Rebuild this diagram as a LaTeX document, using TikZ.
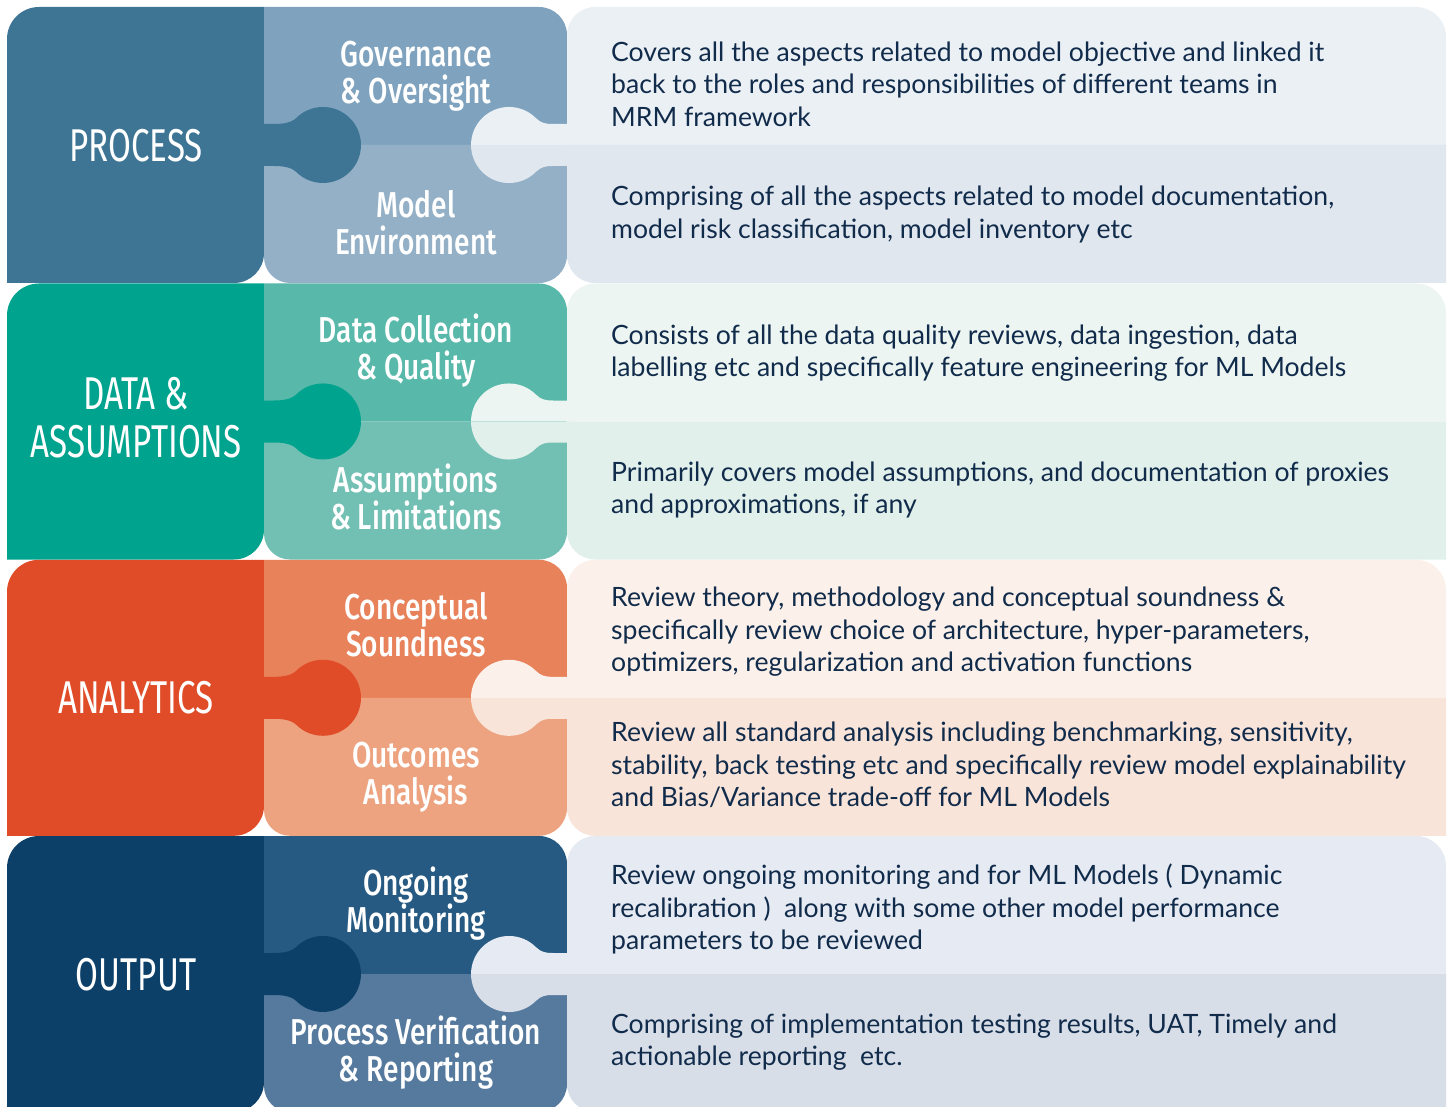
\documentclass[tikz,border=0pt]{standalone}
\usepackage{fontspec}
\setmainfont{Lato}
\newfontfamily\catfont[FakeStretch=0.72]{Fira Sans}
\newfontfamily\tabfont[FakeStretch=0.78]{Fira Sans Medium}
\usepackage{xcolor}

\definecolor{procL}{HTML}{3E7594}
\definecolor{procA}{HTML}{7FA3BE}
\definecolor{procB}{HTML}{93B0C7}
\definecolor{procC}{HTML}{EBF0F5}
\definecolor{procD}{HTML}{E1E7EF}
\definecolor{dataL}{HTML}{00A38D}
\definecolor{dataA}{HTML}{58B8A9}
\definecolor{dataB}{HTML}{72C0B4}
\definecolor{dataC}{HTML}{EDF5F2}
\definecolor{dataD}{HTML}{E1F0EB}
\definecolor{anaL}{HTML}{E04B28}
\definecolor{anaA}{HTML}{E8825A}
\definecolor{anaB}{HTML}{EDA380}
\definecolor{anaC}{HTML}{FCF1EA}
\definecolor{anaD}{HTML}{F9E4DA}
\definecolor{outL}{HTML}{0D4068}
\definecolor{outA}{HTML}{265A82}
\definecolor{outB}{HTML}{557A9E}
\definecolor{outC}{HTML}{E6EAF2}
\definecolor{outD}{HTML}{D8DEE8}
\definecolor{desctext}{HTML}{112B4B}

\begin{document}
\begin{tikzpicture}[x=1pt,y=1pt,yscale=-1,
    cat/.style={font=\catfont\fontsize{46}{48}\selectfont,text=white,align=center,inner sep=0pt},
    tab/.style={font=\tabfont\fontsize{36}{37}\selectfont,text=white,align=center,inner sep=0pt},
    desc/.style={font=\fontsize{26.6}{32.4}\selectfont,text=desctext,align=left,anchor=west,inner sep=0pt}]
  \fill[white] (0,0) rectangle (1448,1107);
  \useasboundingbox (0,0) rectangle (1448,1107);

  \foreach \ry/\cl/\cta/\ctb/\cpa/\cpb in {7/procL/procA/procB/procC/procD,
      283.5/dataL/dataA/dataB/dataC/dataD,
      559.8/anaL/anaA/anaB/anaC/anaD,
      836/outL/outA/outB/outC/outD}
  {
    \begin{scope}[shift={(0,\ry)}]
      \fill[\cl]  (7,276) -- (7,32) arc[start angle=180,end angle=270,radius=32] -- (264,0)
                  -- (264,246) arc[start angle=0,end angle=90,radius=30] -- cycle;
      \fill[\cta] (264,138) -- (264,0) -- (539,0) arc[start angle=270,end angle=360,radius=28]
                  -- (567,138) -- cycle;
      \fill[\ctb] (264,138) -- (567,138) -- (567,248) arc[start angle=0,end angle=90,radius=28]
                  -- (290,276) arc[start angle=90,end angle=180,radius=26] -- cycle;
      \fill[\cpa] (567,138) -- (567,28) arc[start angle=180,end angle=270,radius=28]
                  -- (1416,0) arc[start angle=270,end angle=360,radius=30] -- (1446,138) -- cycle;
      \fill[\cpb] (567,138) -- (1446,138) -- (1446,276) -- (595,276)
                  arc[start angle=90,end angle=180,radius=28] -- cycle;
      \fill[\cpa] (571,138) -- (571,117) -- (553,117) .. controls (545,117) and (541,116) .. (535.9,111.1)
                  arc[start angle=315,end angle=180,radius=38] -- cycle;
      \fill[\cpb] (571,138) -- (571,159) -- (553,159) .. controls (545,159) and (541,160) .. (535.9,164.9)
                  arc[start angle=45,end angle=180,radius=38] -- cycle;
      \fill[\cl]  (260,117) -- (274,117) .. controls (282,117) and (291,116) .. (296.1,111.1)
                  arc[start angle=225,end angle=495,radius=38]
                  .. controls (291,160) and (282,159) .. (274,159) -- (260,159) -- cycle;
    \end{scope}
  }

  \node[cat] (process)   at (136,146)   {PROCESS};
  \node[cat] (dataassum) at (136,417.5) {DATA \&\\ASSUMPTIONS};
  \node[cat] (analytics) at (136,698)   {ANALYTICS};
  \node[cat] (output)    at (136,975)   {OUTPUT};

  \node[tab] (gov)       at (416,76)    {Governance\\\& Oversight};
  \node[tab] (modenv)    at (416,223)   {Model\\Environment};
  \node[tab] (datacoll)  at (416,350.5) {Data Collection\\\& Quality};
  \node[tab] (assum)     at (416,497)   {Assumptions\\\& Limitations};
  \node[tab] (concept)   at (416,624.5) {Conceptual\\Soundness};
  \node[tab] (outcomes)  at (416,777)   {Outcomes\\Analysis};
  \node[tab] (ongoing)   at (416,904)   {Ongoing\\Monitoring};
  \node[tab] (procverif) at (416,1053)  {Process Verification\\\& Reporting};

  \node[desc] (govdesc)       at (611,84)    {Covers all the aspects related to model objective and linked it\\back to the roles and responsibilities of different teams in\\MRM framework};
  \node[desc] (modenvdesc)    at (611,214.5) {Comprising of all the aspects related to model documentation,\\model risk classification, model inventory etc};
  \node[desc] (datacolldesc)  at (611,353)   {Consists of all the data quality reviews, data ingestion, data\\labelling etc and specifically feature engineering for ML Models};
  \node[desc] (assumdesc)     at (611,490)   {Primarily covers model assumptions, and documentation of proxies\\and approximations, if any};
  \node[desc] (conceptdesc)   at (611,632)   {Review theory, methodology and conceptual soundness \&\\specifically review choice of architecture, hyper-parameters,\\optimizers, regularization and activation functions};
  \node[desc] (outcomesdesc)  at (611,765)   {Review all standard analysis including benchmarking, sensitivity,\\stability, back testing etc and specifically review model explainability\\and Bias/Variance trade-off for ML Models};
  \node[desc] (ongoingdesc)   at (611,909)   {Review ongoing monitoring and for ML Models ( Dynamic\\recalibration )\ \ along with some other model performance\\parameters to be reviewed};
  \node[desc] (procverifdesc) at (611,1042)  {Comprising of implementation testing results, UAT, Timely and\\actionable reporting\ \ etc.};
\end{tikzpicture}
\end{document}
